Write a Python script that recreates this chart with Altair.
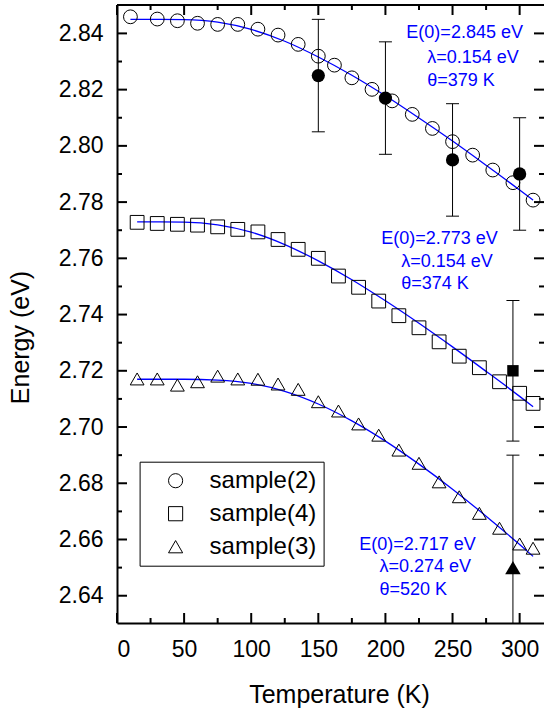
import altair as alt
import pandas as pd

FONT = "Liberation Sans"

# ---------------- data ----------------
names = ["sample(2)", "sample(4)", "sample(3)"]

t2 = [10, 30, 45, 60, 75, 90, 105, 120, 135, 150, 162, 175, 190, 205, 220, 235, 250, 265, 280, 295, 310]
e2 = [2.8459, 2.8451, 2.8445, 2.8436, 2.8432, 2.8432, 2.8415, 2.8394, 2.8361, 2.8319, 2.8287,
      2.8242, 2.8201, 2.8160, 2.8112, 2.8062, 2.8015, 2.7967, 2.7914, 2.7869, 2.7807]

t4 = [15, 30, 45, 60, 75, 90, 105, 120, 135, 150, 165, 180, 195, 210, 225, 240, 255, 270, 285, 300, 310]
e4 = [2.7728, 2.7724, 2.7721, 2.7718, 2.7712, 2.7703, 2.7694, 2.7667, 2.7632, 2.7600, 2.7537,
      2.7497, 2.7448, 2.7396, 2.7353, 2.7303, 2.7252, 2.7211, 2.7161, 2.7120, 2.7084]

t3 = [15, 30, 45, 60, 75, 90, 105, 120, 135, 150, 165, 180, 195, 210, 225, 240, 255, 270, 285, 300, 310]
e3 = [2.7171, 2.7171, 2.7149, 2.7161, 2.7181, 2.7171, 2.7170, 2.7153, 2.7134, 2.7090, 2.7057,
      2.7011, 2.6971, 2.6918, 2.6871, 2.6805, 2.6752, 2.6693, 2.6640, 2.6584, 2.6569]

# filled reference points with error bars
ft2 = [150, 200, 250, 300]
fe2 = [2.825, 2.817, 2.795, 2.790]
fr2 = [0.02, 0.02, 0.02, 0.02]
ft4 = [295]
fe4 = [2.720]
fr4 = [0.025]
ft3 = [295]
fe3 = [2.650]
fr3 = [0.04]

# fitted curves
fit_t2 = [10, 25, 50, 75, 100, 125, 150, 175, 200, 225, 250, 275, 300, 310]
fit_e2 = [2.8450, 2.8450, 2.8449, 2.8440, 2.8414, 2.8372, 2.8316, 2.8251, 2.8178, 2.8099, 2.8017, 2.7931, 2.7843, 2.7807]
fit_t4 = [15, 25, 50, 75, 100, 125, 150, 175, 200, 225, 250, 275, 300, 310]
fit_e4 = [2.7730, 2.7730, 2.7729, 2.7719, 2.7693, 2.7649, 2.7591, 2.7524, 2.7449, 2.7369, 2.7285, 2.7198, 2.7109, 2.7072]
fit_t3 = [15, 25, 50, 75, 100, 125, 150, 175, 200, 225, 250, 275, 300, 310]
fit_e3 = [2.7170, 2.7170, 2.7170, 2.7167, 2.7155, 2.7127, 2.7082, 2.7022, 2.6950, 2.6868, 2.6779, 2.6683, 2.6582, 2.6540]

# annotations
ann_text = ["E(0)=2.845 eV", "\u03bb=0.154 eV", "\u03b8=379 K",
            "E(0)=2.773 eV", "\u03bb=0.154 eV", "\u03b8=374 K",
            "E(0)=2.717 eV", "\u03bb=0.274 eV", "\u03b8=520 K"]
ann_t = [215.6, 231.2, 231.2, 196.9, 211.8, 211.8, 180.5, 195.5, 195.5]
ann_e = [2.8401, 2.8312, 2.8230, 2.7668, 2.7586, 2.7508, 2.6580, 2.6502, 2.6420]

# axis ticks
x_major = [0, 50, 100, 150, 200, 250, 300]
x_minor = [25, 75, 125, 175, 225, 275]
y_major = [2.64, 2.66, 2.68, 2.70, 2.72, 2.74, 2.76, 2.78, 2.80, 2.82, 2.84]
y_minor = [2.65, 2.67, 2.69, 2.71, 2.73, 2.75, 2.77, 2.79, 2.81, 2.83]
x_range = [0, 318.15]
y_range = [2.6303, 2.8501]

# ---------------- tables ----------------
pts = pd.concat([
    pd.DataFrame({"T": t2, "E": e2, "sample": names[0]}),
    pd.DataFrame({"T": t4, "E": e4, "sample": names[1]}),
    pd.DataFrame({"T": t3, "E": e3, "sample": names[2]}),
])
fits = pd.concat([
    pd.DataFrame({"T": fit_t2, "E": fit_e2, "sample": names[0]}),
    pd.DataFrame({"T": fit_t4, "E": fit_e4, "sample": names[1]}),
    pd.DataFrame({"T": fit_t3, "E": fit_e3, "sample": names[2]}),
])

def filled_df(t, e, r):
    return pd.DataFrame({"T": t, "E": e, "lo": [a - b for a, b in zip(e, r)], "hi": [a + b for a, b in zip(e, r)]})

f2 = filled_df(ft2, fe2, fr2)
f4 = filled_df(ft4, fe4, fr4)
f3 = filled_df(ft3, fe3, fr3)
ferr = pd.concat([f2, f4, f3])
ann = pd.DataFrame({"T": ann_t, "E": ann_e, "txt": ann_text})

W, H = 427, 618
xs = alt.Scale(domain=x_range, nice=False, zero=False)
ys = alt.Scale(domain=y_range, nice=False, zero=False, clamp=True)

x_axis = alt.Axis(
    values=x_major, format="d", ticks=False, grid=False,
    domainColor="black", domainWidth=2, labelFont=FONT, labelFontSize=23,
    labelColor="black", labelBaseline="alphabetic", labelPadding=33,
    title="Temperature (K)", titleFont=FONT, titleFontSize=25, titleFontWeight="normal",
    titleColor="black", titleX=222, titleY=79, titleBaseline="alphabetic", titleAlign="center")
y_axis = alt.Axis(
    values=y_major, format=".2f", ticks=False, grid=False,
    domainColor="black", domainWidth=2, labelFont=FONT, labelFontSize=23,
    labelColor="black", labelPadding=14,
    title="Energy (eV)", titleFont=FONT, titleFontSize=25, titleFontWeight="normal",
    titleColor="black", titleX=-89, titleY=332, titleAngle=270, titleBaseline="alphabetic",
    titleAlign="center")

def XC(f="T"):
    return alt.X(f"{f}:Q", scale=xs, axis=x_axis, title="Temperature (K)")

def YC(f="E"):
    return alt.Y(f"{f}:Q", scale=ys, axis=y_axis, title="Energy (eV)")

lines = alt.Chart(fits).mark_line(color="#0000ff", strokeWidth=1.3, interpolate="monotone").encode(
    x=XC(), y=YC(), detail="sample:N")

open_pts = alt.Chart(pts).mark_point(filled=False, color="black", strokeWidth=1, opacity=1, size=190).encode(
    x=XC(), y=YC(),
    shape=alt.Shape("sample:N", scale=alt.Scale(domain=names, range=["circle", "square", "triangle-up"]),
                    legend=alt.Legend(orient="none", legendX=22.6, legendY=456.7, title=None,
                                      padding=7, symbolOffset=17, labelOffset=22, rowPadding=9,
                                      labelFont=FONT, labelFontSize=24, labelColor="black",
                                      symbolSize=200, symbolStrokeColor="black", symbolStrokeWidth=1,
                                      fillColor="white", strokeColor="black")))

err_rule = alt.Chart(ferr).mark_rule(color="black", strokeWidth=1).encode(
    x=XC(), y=YC("lo"), y2="hi:Q")
cap_lo = alt.Chart(ferr[ferr["lo"] >= y_range[0]]).mark_tick(
    orient="horizontal", size=13, thickness=1, color="black", opacity=1).encode(x=XC(), y=YC("lo"))
cap_hi = alt.Chart(ferr).mark_tick(orient="horizontal", size=13, thickness=1, color="black", opacity=1).encode(
    x=XC(), y=YC("hi"))

fill_c = alt.Chart(f2).mark_point(shape="circle", filled=True, color="black", size=175, opacity=1).encode(x=XC(), y=YC())
fill_s = alt.Chart(f4).mark_point(shape="square", filled=True, color="black", size=130, opacity=1).encode(x=XC(), y=YC())
fill_t = alt.Chart(f3).mark_point(shape="triangle-up", filled=True, color="black", size=240, opacity=1).encode(x=XC(), y=YC())

texts = alt.Chart(ann).mark_text(align="left", baseline="middle", font=FONT, fontSize=18, color="#0000ff").encode(
    x=XC(), y=YC(), text="txt:N")

# frame top edge
top_border = alt.Chart(pd.DataFrame({"T": x_range})).mark_rule(color="black", strokeWidth=2).encode(
    x=alt.value(0), x2=alt.value(W), y=alt.value(0))

# inward ticks
def vtick(vals, y0, y1):
    return alt.Chart(pd.DataFrame({"T": vals})).mark_rule(color="black", strokeWidth=2).encode(
        x=XC(), y=alt.value(y0), y2=alt.value(y1))

def htick(vals, x0, x1):
    return alt.Chart(pd.DataFrame({"E": vals})).mark_rule(color="black", strokeWidth=2).encode(
        y=YC(), x=alt.value(x0), x2=alt.value(x1))

ticks = [
    vtick(x_major, H, H - 10), vtick(x_minor, H, H - 5),
    vtick(x_major, 0, 10), vtick(x_minor, 0, 5),
    htick(y_major, 0, 10), htick(y_minor, 0, 5),
    htick(y_major, W, W - 10), htick(y_minor, W, W - 5),
]

chart = alt.layer(
    lines, err_rule, cap_lo, cap_hi, open_pts, fill_c, fill_s, fill_t, texts, *ticks, top_border
).properties(
    width=W, height=H,
    padding={"left": 117, "top": 5, "right": 0, "bottom": 85},
    autosize=alt.AutoSizeParams(type="none"),
    background="white",
).configure_view(stroke=None
).configure_axis(titleFontWeight="normal", labelFontWeight="normal")

chart.save("out.html", embed_options={"renderer": "svg", "actions": False})
